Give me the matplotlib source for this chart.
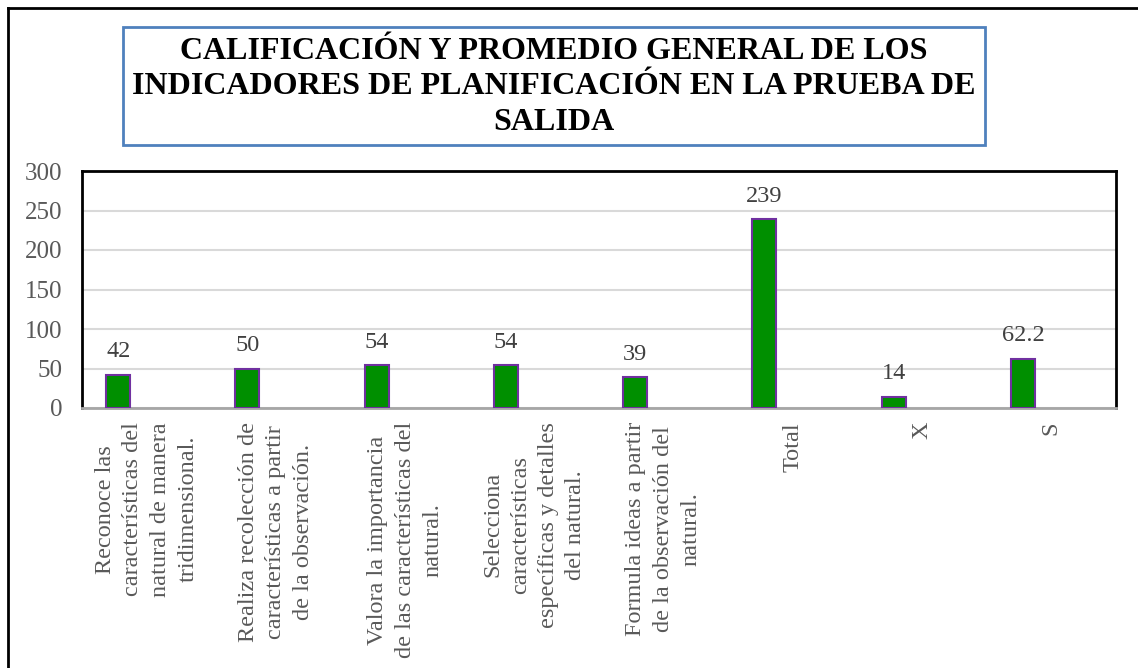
import numpy as np
import matplotlib
matplotlib.use('Agg')
import matplotlib.pyplot as plt
from matplotlib.patches import Rectangle
from matplotlib.lines import Line2D

# ---- data ----
categories = [
    "Reconoce las\ncaracterísticas del\nnatural de manera\ntridimensional.",
    "Realiza recolección de\ncaracterísticas a partir\nde la observación.",
    "Valora la importancia\nde las características del\nnatural.",
    "Selecciona\ncaracterísticas\nespecíficas y detalles\ndel natural.",
    "Formula ideas a partir\nde la observación del\nnatural.",
    "Total",
    "X",
    "S",
]
values = [42, 50, 54, 54, 39, 239, 14, 62.2]
value_labels = ["42", "50", "54", "54", "39", "239", "14", "62.2"]
yticks = [0, 50, 100, 150, 200, 250, 300]

title = ("CALIFICACIÓN Y PROMEDIO GENERAL DE LOS\n"
         "INDICADORES DE PLANIFICACIÓN EN LA PRUEBA DE\n"
         "SALIDA")

plt.rcParams['font.family'] = ['Liberation Serif', 'DejaVu Serif']

W, H = 1138, 668
fig = plt.figure(figsize=(W / 100, H / 100), dpi=100)

# outer frame (only top and left visible)
fig.add_artist(Line2D([8 / W, 8 / W], [1 - 8 / H, 0], transform=fig.transFigure,
                      color="black", lw=2))
fig.add_artist(Line2D([8 / W, 1], [1 - 8 / H, 1 - 8 / H], transform=fig.transFigure,
                      color="black", lw=2))

# title box
bx0, bx1, by0, by1 = 123, 985, 27, 145
fig.add_artist(Rectangle((bx0 / W, 1 - by1 / H), (bx1 - bx0) / W, (by1 - by0) / H,
                         transform=fig.transFigure, fill=False,
                         edgecolor="#4f81bd", lw=2))
fig.text((bx0 + bx1) / 2 / W, 1 - 87 / H, title, ha="center", va="center",
         fontsize=23, fontweight="bold", linespacing=1.31, color="black")

# axes
ax_l, ax_r, ax_t, ax_b = 82, 1116, 171, 408
ax = fig.add_axes([ax_l / W, 1 - ax_b / H, (ax_r - ax_l) / W, (ax_b - ax_t) / H])

x = np.arange(len(categories))
bar_x = x - 0.22
bars = ax.bar(bar_x, values, width=0.185, color="#008f00",
              edgecolor="#7030a0", linewidth=1.5, zorder=3)

for bx, v, lab in zip(bar_x, values, value_labels):
    ax.annotate(lab, (bx, v), xytext=(0, 9), textcoords="offset points",
                ha="center", va="bottom", fontsize=17.5, color="#404040")

ax.set_xlim(-0.5, len(categories) - 0.5)
ax.set_ylim(0, 300)
ax.set_yticks(yticks)
ax.yaxis.grid(True, color="#d9d9d9", lw=1.5, zorder=0)
ax.set_axisbelow(True)

ax.set_xticks(x)
ax.set_xticklabels(categories, rotation=90, ha="center", va="top",
                   multialignment="center", fontsize=17.5, color="#595959",
                   linespacing=1.42)
ax.tick_params(axis="x", length=0, pad=10)
ax.tick_params(axis="y", length=0, pad=14, labelsize=18, labelcolor="#595959")

for side in ["top", "left", "right"]:
    ax.spines[side].set_color("black")
    ax.spines[side].set_linewidth(2)
ax.spines["bottom"].set_color("#a6a6a6")
ax.spines["bottom"].set_linewidth(2)

plt.savefig("out.png", dpi=100)
